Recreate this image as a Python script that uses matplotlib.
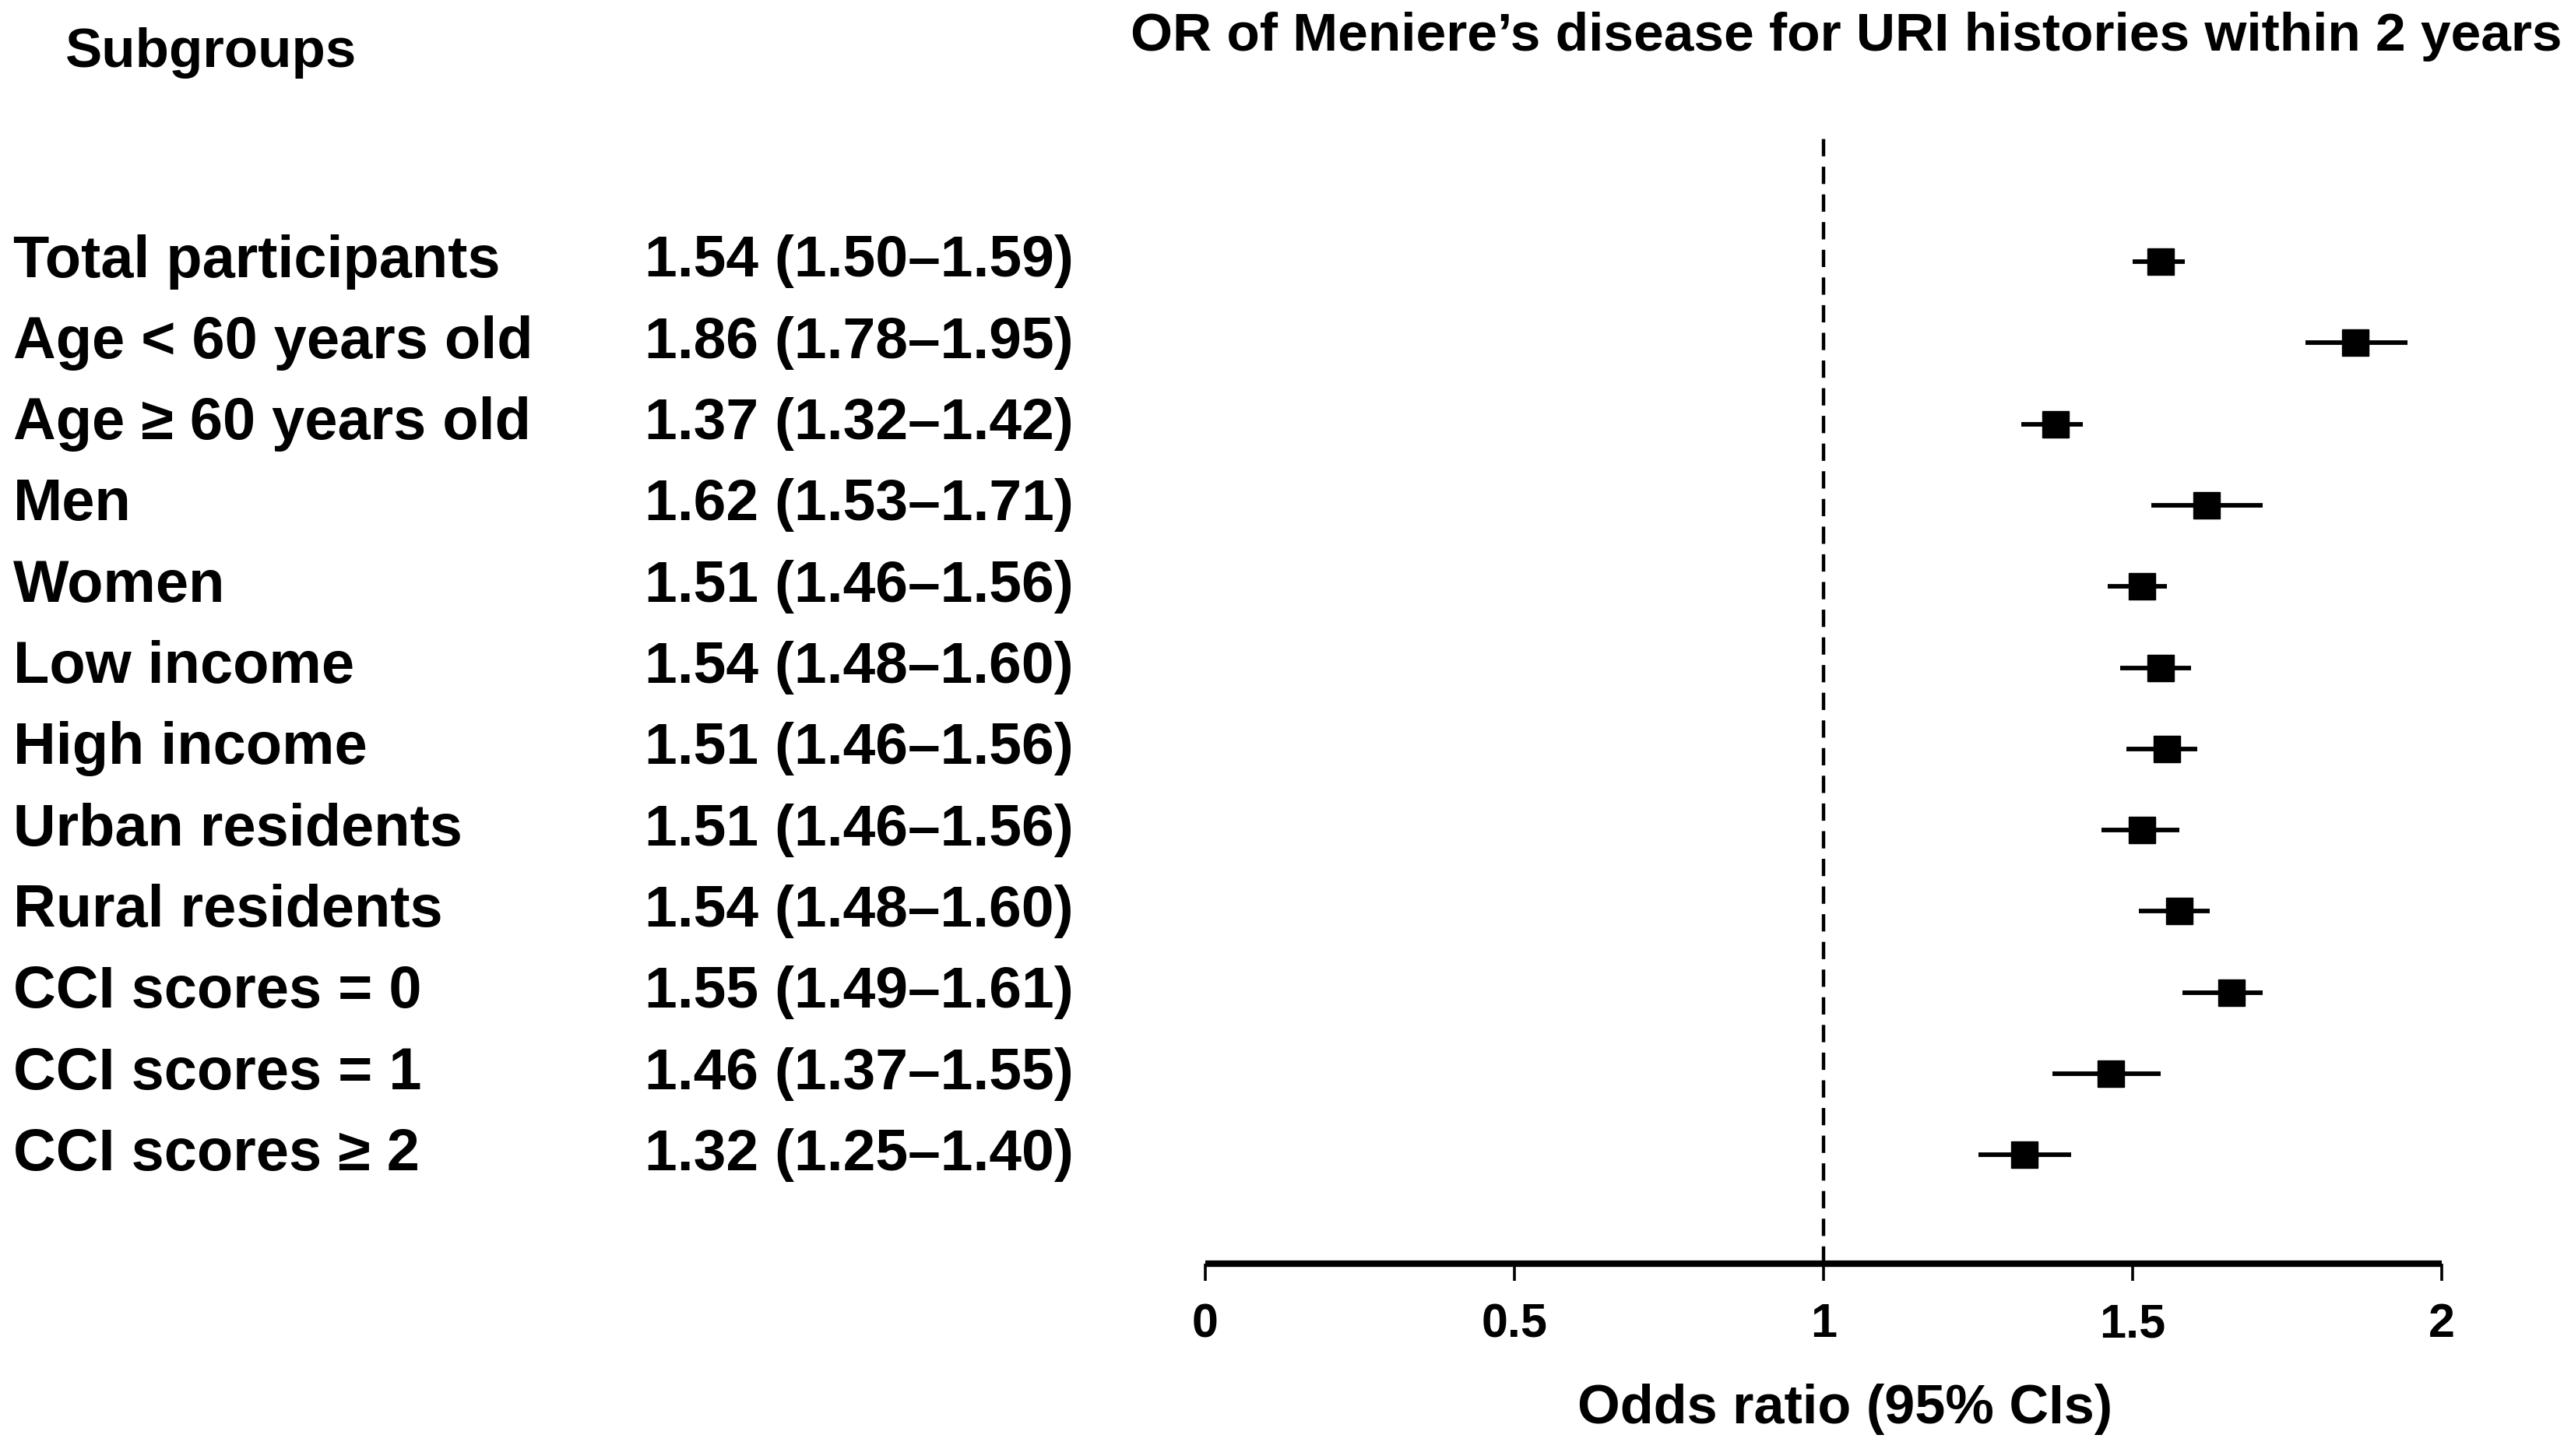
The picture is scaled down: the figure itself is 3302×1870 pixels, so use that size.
import matplotlib
matplotlib.use("Agg")
import matplotlib.pyplot as plt
from matplotlib.transforms import blended_transform_factory

plt.rcParams['font.family'] = ['Liberation Sans', 'DejaVu Sans']
plt.rcParams['font.weight'] = 'bold'

subgroups = ["Total participants", "Age < 60 years old", "Age \u2265 60 years old", "Men", "Women",
             "Low income", "High income", "Urban residents", "Rural residents",
             "CCI scores = 0", "CCI scores = 1", "CCI scores \u2265 2"]
or_text = ["1.54 (1.50\u20131.59)", "1.86 (1.78\u20131.95)", "1.37 (1.32\u20131.42)", "1.62 (1.53\u20131.71)",
           "1.51 (1.46\u20131.56)", "1.54 (1.48\u20131.60)", "1.51 (1.46\u20131.56)", "1.51 (1.46\u20131.56)",
           "1.54 (1.48\u20131.60)", "1.55 (1.49\u20131.61)", "1.46 (1.37\u20131.55)", "1.32 (1.25\u20131.40)"]
# values as drawn in the picture
or_vals = [1.545, 1.86, 1.375, 1.62, 1.515, 1.545, 1.555, 1.515, 1.575, 1.66, 1.465, 1.325]
ci_low = [1.50, 1.78, 1.32, 1.53, 1.46, 1.48, 1.49, 1.45, 1.51, 1.58, 1.37, 1.25]
ci_high = [1.585, 1.945, 1.42, 1.71, 1.555, 1.595, 1.605, 1.575, 1.625, 1.71, 1.545, 1.40]
xticks = [0, 0.5, 1, 1.5, 2]
xtick_labels = ["0", "0.5", "1", "1.5", "2"]

W, H = 3302, 1870
fig = plt.figure(figsize=(W / 100, H / 100), dpi=100)
ax = fig.add_axes([1548 / W, 1 - 1623 / H, 1588 / W, (1623 - 178) / H])

ypos = list(range(len(subgroups)))
row_h = 104.3
ax.set_ylim((1623 - 336) / row_h, -(336 - 178) / row_h)
ax.set_xlim(0, 2)

ax.axvline(1, color='black', lw=3.2, ls=(0, (5, 3)), zorder=1)
ax.hlines(ypos, ci_low, ci_high, color='black', lw=4.2, zorder=2)
ax.plot(or_vals, ypos, ls='none', marker='s', ms=25, color='black', zorder=3)

for s in ['top', 'right', 'left']:
    ax.spines[s].set_visible(False)
ax.spines['bottom'].set_linewidth(6)
ax.spines['bottom'].set_capstyle('butt')
ax.set_yticks([])
ax.set_xticks(xticks)
ax.set_xticklabels(xtick_labels)
ax.tick_params(axis='x', direction='out', length=16, width=2.6, pad=20, labelsize=44)
for lab in ax.get_xticklabels():
    lab.set_fontweight('bold')

ax.set_xlabel("Odds ratio (95% CIs)", fontsize=50.6, fontweight='bold')
ax.xaxis.set_label_coords((2370 - 1548) / 1588, -(1810 - 1623) / (1623 - 178))
ax.xaxis.label.set_va('center')

tr = blended_transform_factory(fig.transFigure, ax.transData)
for i in ypos:
    ax.text(17 / W, i, subgroups[i], transform=tr, ha='left', va='center',
            fontsize=54.5, fontweight='bold', clip_on=False)
    ax.text(828 / W, i, or_text[i], transform=tr, ha='left', va='center',
            fontsize=54, fontweight='bold', clip_on=False)

fig.text(84 / W, 1 - 68 / H, "Subgroups", ha='left', va='center', fontsize=51, fontweight='bold')
fig.text(3290 / W, 1 - 47 / H, "OR of Meniere\u2019s disease for URI histories within 2 years",
         ha='right', va='center', fontsize=50, fontweight='bold')

fig.savefig("out.png", dpi=100)
